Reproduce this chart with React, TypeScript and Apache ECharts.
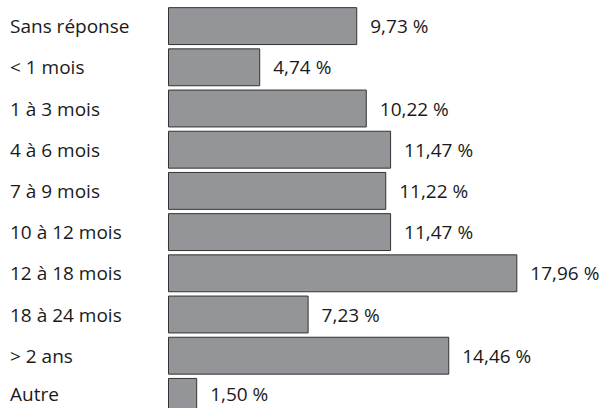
import React, { useEffect, useRef } from "react";
import * as echarts from "echarts";

const categories = [
  "Sans réponse",
  "< 1 mois",
  "1 à 3 mois",
  "4 à 6 mois",
  "7 à 9 mois",
  "10 à 12 mois",
  "12 à 18 mois",
  "18 à 24 mois",
  "> 2 ans",
  "Autre",
];
const values = [9.73, 4.74, 10.22, 11.47, 11.22, 11.47, 17.96, 7.23, 14.46, 1.5];

const FONT = "'Open Sans', Lato, sans-serif";

export default function App() {
  const ref = useRef<HTMLDivElement>(null);
  useEffect(() => {
    if (!ref.current) return;
    const chart = echarts.init(ref.current, null, { renderer: "svg" });
    const lastIdx = categories.length - 1;
    chart.setOption({
      animation: false,
      grid: { left: 168, right: 47, top: 5.5, bottom: 12.5, containLabel: false },
      xAxis: {
        type: "value",
        min: 0,
        max: 20,
        show: false,
      },
      yAxis: {
        type: "category",
        data: categories,
        inverse: true,
        axisLine: { show: false },
        axisTick: { show: false },
        axisLabel: {
          align: "left",
          margin: 158,
          color: "#1a1a1a",
          fontSize: 19,
          lineHeight: 19,
          fontFamily: FONT,
          formatter: (v: string, i: number) => (i === lastIdx ? "{last|" + v + "}" : v),
          rich: {
            last: {
              fontSize: 19,
              lineHeight: 19,
              fontFamily: FONT,
              color: "#1a1a1a",
              padding: [0, 0, 6, 0],
            },
          },
        },
      },
      series: [
        {
          type: "bar",
          data: values.map((v, i) =>
            i === lastIdx ? { value: v, label: { offset: [0, -3] } } : v
          ),
          barCategoryGap: "8%",
          itemStyle: { color: "#939598", borderColor: "#333333", borderWidth: 1 },
          label: {
            show: true,
            position: "right",
            distance: 13,
            color: "#1a1a1a",
            fontSize: 19,
            lineHeight: 19,
            fontFamily: FONT,
            formatter: (p: any) => p.value.toFixed(2).replace(".", ",") + " %",
          },
        },
      ],
    });
    return () => chart.dispose();
  }, []);
  return (
    <div style={{ position: "absolute", left: 0, top: 0, width: 604, height: 408, overflow: "hidden", background: "#fff" }}>
      <div ref={ref} style={{ width: 604, height: 430 }} />
    </div>
  );
}
